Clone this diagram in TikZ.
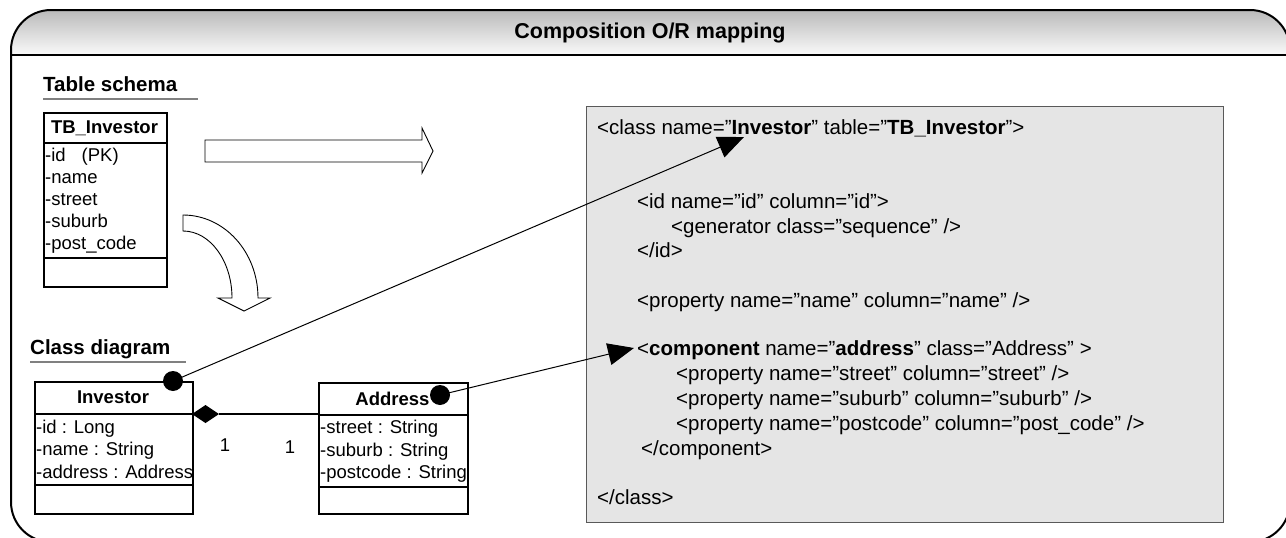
\documentclass[tikz,border=0pt]{standalone}
\usepackage{fontspec}
\setmainfont{Liberation Sans}
\usetikzlibrary{arrows.meta}
\tikzset{
  lbl/.style={inner sep=0pt, anchor=base west, font=\fontsize{18.5}{22}\selectfont},
  hdr/.style={inner sep=0pt, font=\bfseries\fontsize{18.5}{22}\selectfont},
  heading/.style={inner sep=0pt, anchor=base west, font=\bfseries\fontsize{20.5}{24}\selectfont},
  code/.style={inner sep=0pt, anchor=base west, font=\fontsize{20.5}{24}\selectfont},
  umlbox/.style={draw, line width=1.6pt, anchor=north west, inner sep=0pt},
  blockarrow/.style={draw, line width=0.9pt, fill=white, line join=miter},
  dot/.style={circle, fill=black, minimum size=20pt, inner sep=0pt},
  ref/.style={line width=1pt, -{Triangle[length=26pt,width=22pt]}},
  underl/.style={draw=black!50, line width=1.5pt}
}
\begin{document}
\begin{tikzpicture}[x=1pt,y=-1pt]
\useasboundingbox (0,0) rectangle (1286,538);
% frame with shaded header
\begin{scope}
\clip[rounded corners=40pt] (11,10) rectangle (1290,542);
\shade[top color=black!27, bottom color=black!2] (11,10) rectangle (1290,55);
\end{scope}
\draw[line width=2pt, rounded corners=40pt] (11,10) rectangle (1290,542);
\draw[line width=2pt] (11,55) -- (1290,55);
\node[inner sep=0pt, font=\bfseries\fontsize{21.5}{25}\selectfont] (title) at (650,33) {Composition O/R mapping};

% Table schema
\node[heading] (tsh) at (43,91) {Table schema};
\draw[underl] (43,99) -- (198,99);
\node[umlbox, minimum width=123pt, minimum height=174pt] (tb) at (43,112) {};
\draw[line width=1.6pt] (43,143) -- (166,143);
\draw[line width=1.6pt] (43,258) -- (166,258);
\node[hdr] (tbh) at (104.5,128) {TB\_Investor};
\node[lbl] (tb1) at (45,161.5) {-id\hspace{16pt}(PK)};
\node[lbl] (tb2) at (45,183.5) {-name};
\node[lbl] (tb3) at (45,205.5) {-street};
\node[lbl] (tb4) at (45,227.5) {-suburb};
\node[lbl] (tb5) at (45,249.5) {-post\_code};

% block arrows
\draw[blockarrow] (205,140) -- (422,140) -- (422,128) -- (433,151) -- (422,173) -- (422,162) -- (205,162) -- cycle;
\draw[blockarrow] (183,215) .. controls (224.4,215) and (258,252) .. (258,298)
  -- (270,298) -- (244,311) -- (218,298) -- (232,298)
  .. controls (232,261) and (210.1,231) .. (183,231) -- cycle;

% Class diagram
\node[heading] (cdh) at (30,354) {Class diagram};
\draw[underl] (30,362) -- (186,362);
\node[umlbox, minimum width=158pt, minimum height=132pt] (inv) at (34,381) {};
\draw[line width=1.6pt] (34,414) -- (192,414);
\draw[line width=1.6pt] (34,485) -- (192,485);
\node[hdr] (invh) at (113,397.5) {Investor};
\node[lbl] (inv1) at (36,433.5) {-id : Long};
\node[lbl] (inv2) at (36,455.5) {-name : String};
\node[lbl] (inv3) at (36,478) {-address : Address};

\node[umlbox, minimum width=149pt, minimum height=131pt] (adr) at (318,382) {};
\draw[line width=1.6pt] (318,415) -- (467,415);
\draw[line width=1.6pt] (318,487) -- (467,487);
\node[hdr] (adrh) at (392.5,398.5) {Address};
\node[lbl] (adr1) at (320,433.5) {-street : String};
\node[lbl] (adr2) at (320,456) {-suburb : String};
\node[lbl] (adr3) at (320,478) {-postcode : String};

% composition
\fill (192,414) -- (205.5,405) -- (219,414) -- (205.5,423) -- cycle;
\coordinate (diaE) at (219,414);
\draw[line width=1.2pt] (diaE) -- (adr.west |- diaE);
\node[lbl, anchor=center] (m1) at (225,445) {1};
\node[lbl, anchor=center] (m2) at (290,447) {1};

% code box
\node[draw=black!65, line width=1pt, fill=black!10, anchor=north west, minimum width=637pt, minimum height=416pt, inner sep=0pt] (code) at (586,106) {};
\node[code] (c1) at (597,134.5) {<class name=”\textbf{Investor}” table=”\textbf{TB\_Investor}”>};
\node[code] (c2) at (637,208) {<id name=”id” column=”id”>};
\node[code] (c3) at (671,233) {<generator class=”sequence” />};
\node[code] (c4) at (637,257) {</id>};
\node[code] (c5) at (637,307) {<property name=”name” column=”name” />};
\node[code] (c6) at (637,355) {<\textbf{component} name=”\textbf{address}” class=”Address” >};
\node[code] (c7) at (676,380) {<property name=”street” column=”street” />};
\node[code] (c8) at (676,405) {<property name=”suburb” column=”suburb” />};
\node[code] (c9) at (676,430) {<property name=”postcode” column=”post\_code” />};
\node[code] (c10) at (641,455) {</component>};
\node[code] (c11) at (597,504) {</class>};

% references
\node[dot] (dotI) at (173,381) {};
\node[dot] (dotA) at (440,395) {};
\coordinate (tipI) at (744,137);
\coordinate (tipA) at (634,348);
\draw[ref] (dotI.center) -- (tipI);
\draw[ref] (dotA.center) -- (tipA);
\end{tikzpicture}
\end{document}
